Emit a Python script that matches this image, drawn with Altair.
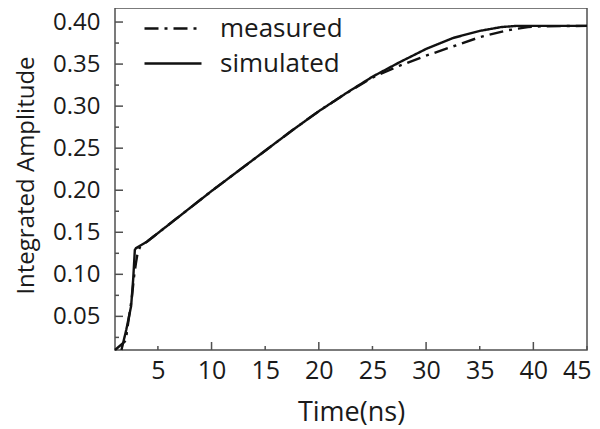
import altair as alt
import pandas as pd

# ---- data ----
sim_t = [1.6, 2.05, 2.5, 2.7, 2.85, 2.95, 4.0, 5.0, 7.5, 10.0, 12.5, 15.0, 17.5, 20.0,
         22.5, 25.0, 27.5, 30.0, 32.5, 35.0, 37.0, 38.5, 45.0]
sim_v = [0.010, 0.034, 0.062, 0.095, 0.129, 0.131, 0.139, 0.149, 0.174, 0.199, 0.223, 0.247,
         0.271, 0.294, 0.315, 0.335, 0.352, 0.368, 0.381, 0.3895, 0.394, 0.3955, 0.3955]

meas_t = [1.0, 2.0, 2.2, 2.55, 2.8, 2.95, 3.1, 3.35, 4.0, 5.0, 7.5, 10.0, 12.5, 15.0, 17.5,
          20.0, 22.5, 25.0, 27.5, 30.0, 32.5, 35.0, 37.5, 39.5, 41.0, 45.0]
meas_v = [0.010, 0.021, 0.040, 0.070, 0.100, 0.113, 0.125, 0.133, 0.139, 0.149, 0.174, 0.199,
          0.223, 0.247, 0.271, 0.294, 0.315, 0.334, 0.348, 0.360, 0.371, 0.382, 0.390, 0.394,
          0.395, 0.3955]

series_names = ["measured", "simulated"]
x_ticks = [5, 10, 15, 20, 25, 30, 35, 40, 45]
y_labels = [0.05, 0.10, 0.15, 0.20, 0.25, 0.30, 0.35, 0.40]
y_ticks = [0.025, 0.05, 0.075, 0.10, 0.125, 0.15, 0.175, 0.20, 0.225, 0.25, 0.275, 0.30,
           0.325, 0.35, 0.375, 0.40]

lines_df = pd.concat([
    pd.DataFrame({"t": meas_t, "v": meas_v, "series": "measured"}),
    pd.DataFrame({"t": sim_t, "v": sim_v, "series": "simulated"}),
])
xt_df = pd.DataFrame({"t": x_ticks, "major": [t % 10 == 0 for t in x_ticks]})
yt_df = pd.DataFrame({"v": y_ticks, "major": [round(v / 0.025) % 2 == 0 for v in y_ticks]})

W, H = 472, 342
FONT = "Open Sans"
AX = "#505050"
TXT = "#1a1a1a"

xscale = alt.Scale(domain=[1, 45], nice=False, zero=False)
yscale = alt.Scale(domain=[0.01, 0.4167], nice=False, zero=False)

x_axis = alt.Axis(values=x_ticks, format="d", ticks=False, tickSize=0, domain=False, grid=False,
                  labelFont=FONT, labelFontSize=25, labelColor=TXT, labelPadding=8,
                  labelOverlap=False, labelFlush=True, labelFlushOffset=4,
                  title="Time(ns)", titleFont=FONT, titleFontSize=27, titleFontWeight="normal",
                  titleColor=TXT, titleX=236, titleY=70, titleBaseline="alphabetic",
                  titleAlign="center")
y_axis = alt.Axis(values=y_labels, format=".2f", ticks=False, tickSize=0, domain=False, grid=False,
                  labelFont=FONT, labelFontSize=24, labelColor=TXT, labelPadding=15,
                  labelOverlap=False, labelFlush=False,
                  title="Integrated Amplitude", titleFont=FONT, titleFontSize=24,
                  titleFontWeight="normal", titleColor=TXT, titleAngle=270, titleX=-82,
                  titleY=167, titleAlign="center", titleBaseline="alphabetic")

lines = alt.Chart(lines_df).mark_line(strokeWidth=2.4, color="#111111").encode(
    x=alt.X("t:Q", scale=xscale, axis=x_axis),
    y=alt.Y("v:Q", scale=yscale, axis=y_axis),
    strokeDash=alt.StrokeDash(
        "series:N",
        scale=alt.Scale(domain=series_names, range=[[14, 6, 3, 6], [1, 0]]),
        legend=alt.Legend(title=None, orient="none", legendX=28, legendY=3,
                          symbolType="stroke", symbolSize=3249, symbolStrokeWidth=2.4,
                          symbolStrokeColor="#111111", labelFont=FONT, labelFontSize=26,
                          labelColor=TXT, labelOffset=17, clipHeight=35, rowPadding=0,
                          padding=0),
    ),
    order=alt.Order("t:Q"),
)

xt_major = alt.Chart(xt_df).transform_filter("datum.major").mark_rule(
    stroke=AX, strokeWidth=1.5).encode(
    x=alt.X("t:Q", scale=xscale, axis=x_axis), y=alt.value(H), y2=alt.value(H - 8))
xt_minor = alt.Chart(xt_df).transform_filter("!datum.major").mark_rule(
    stroke=AX, strokeWidth=1.5).encode(
    x=alt.X("t:Q", scale=xscale, axis=x_axis), y=alt.value(H), y2=alt.value(H - 4))
yt_major = alt.Chart(yt_df).transform_filter("datum.major").mark_rule(
    stroke=AX, strokeWidth=1.5).encode(
    y=alt.Y("v:Q", scale=yscale, axis=y_axis), x=alt.value(0), x2=alt.value(8))
yt_minor = alt.Chart(yt_df).transform_filter("!datum.major").mark_rule(
    stroke=AX, strokeWidth=1.5).encode(
    y=alt.Y("v:Q", scale=yscale, axis=y_axis), x=alt.value(0), x2=alt.value(4))

chart = alt.layer(lines, xt_major, xt_minor, yt_major, yt_minor).properties(
    width=W, height=H,
    autosize=alt.AutoSizeParams(type="none"),
    padding={"left": 107, "top": 0, "right": 5, "bottom": 79},
    background="white",
).configure_view(stroke=AX, strokeWidth=1.5)

chart.save("out.html", embed_options={"renderer": "svg", "actions": False})
